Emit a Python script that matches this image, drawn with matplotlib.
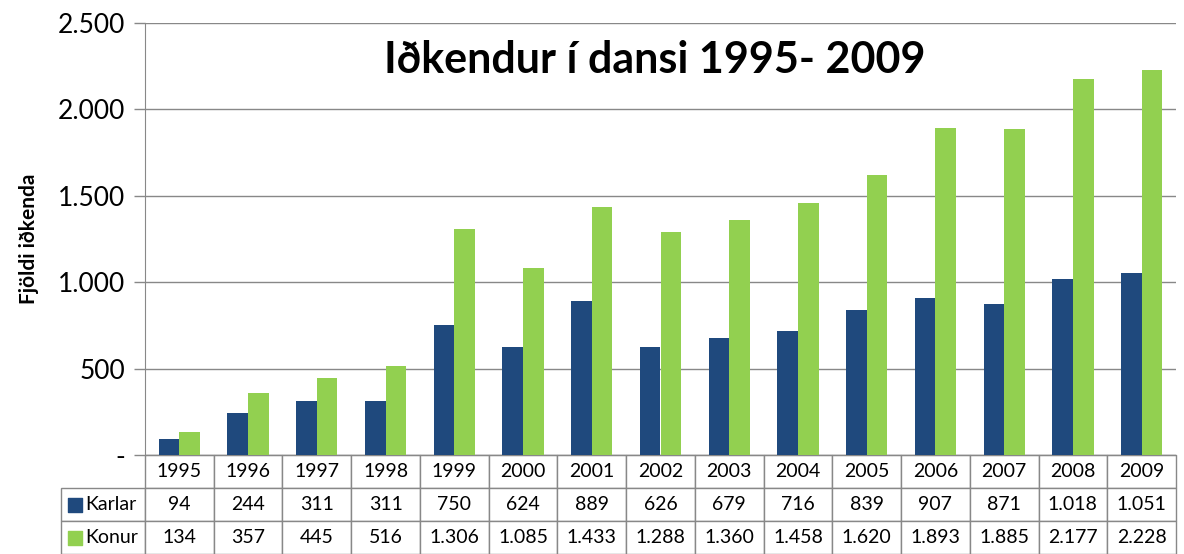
"""Bar chart with data table: Iðkendur í dansi 1995-2009."""
import matplotlib
matplotlib.use("Agg")
import matplotlib.pyplot as plt
from matplotlib.table import Table
from matplotlib.ticker import FuncFormatter
import numpy as np

years = ['1995', '1996', '1997', '1998', '1999', '2000', '2001', '2002',
         '2003', '2004', '2005', '2006', '2007', '2008', '2009']
karlar = [94, 244, 311, 311, 750, 624, 889, 626, 679, 716, 839, 907, 871, 1018, 1051]
konur = [134, 357, 445, 516, 1306, 1085, 1433, 1288, 1360, 1458, 1620, 1893, 1885, 2177, 2228]
series_names = ['Karlar', 'Konur']
y_ticks = [0, 500, 1000, 1500, 2000, 2500]

BLUE = '#1F497D'
GREEN = '#92D050'
GRID = '#888888'
FONT = ['Lato', 'DejaVu Sans']

plt.rcParams['font.family'] = FONT


def dot_thousands(v):
    """Icelandic style: 1.234"""
    return f"{int(v):,}".replace(',', '.')


W, H = 1184, 554
fig = plt.figure(figsize=(W / 100, H / 100), dpi=100)
# plot area in pixels: x 145..1176, y 23..455
ax = fig.add_axes([145 / W, (H - 455) / H, (1176 - 145) / W, (455 - 23) / H])

x = np.arange(len(years))
bw = 0.3
ax.bar(x - bw / 2, karlar, width=bw, color=BLUE, zorder=3)
ax.bar(x + bw / 2, konur, width=bw, color=GREEN, zorder=3)

ax.set_xlim(-0.5, len(years) - 0.5)
ax.set_ylim(0, 2500)
ax.set_yticks(y_ticks)
ax.yaxis.set_major_formatter(FuncFormatter(lambda v, p: '-' if v == 0 else dot_thousands(v)))
ax.tick_params(axis='y', labelsize=19, length=8, width=1, color=GRID, pad=6)
ax.set_xticks([])
ax.grid(axis='y', color=GRID, linewidth=1, zorder=0)
for s in ['top', 'right']:
    ax.spines[s].set_visible(False)
ax.spines['left'].set_color(GRID)
ax.spines['bottom'].set_color(GRID)

ax.set_ylabel('Fjöldi iðkenda', fontsize=15, fontweight='bold', labelpad=14)
ax.text(0.494, 0.915, 'Iðkendur í dansi 1995- 2009', transform=ax.transAxes,
        ha='center', va='center', fontsize=31, fontweight='bold')

# data table under the plot (bbox covers the data cells only)
row_h = 33 / 432
lab_w = 84 / 1031
col_w = 1 / len(years)
tab = Table(ax, bbox=[0, -3 * row_h, 1, 3 * row_h])
for j, yr in enumerate(years):
    tab.add_cell(0, j, width=col_w, height=row_h, text=yr, loc='center')
for i, vals in enumerate([karlar, konur], start=1):
    tab.add_cell(i, -1, width=lab_w, height=row_h, text='')
    for j, v in enumerate(vals):
        tab.add_cell(i, j, width=col_w, height=row_h, text=dot_thousands(v), loc='center')
tab.auto_set_font_size(False)
for cell in tab.get_celld().values():
    cell.set_edgecolor(GRID)
    cell.set_linewidth(1)
    cell.get_text().set_fontsize(14)
ax.add_table(tab)

# legend keys and names inside the row label cells
for i, (name, col) in enumerate(zip(series_names, [BLUE, GREEN])):
    yc = -(1.5 + i) * row_h
    ax.scatter([(74.5 - 145) / 1031], [yc], s=88, marker='s', color=col,
               transform=ax.transAxes, clip_on=False, zorder=5)
    ax.text((85 - 145) / 1031, yc, name, transform=ax.transAxes,
            ha='left', va='center', fontsize=14)

fig.savefig('out.png', dpi=100)
